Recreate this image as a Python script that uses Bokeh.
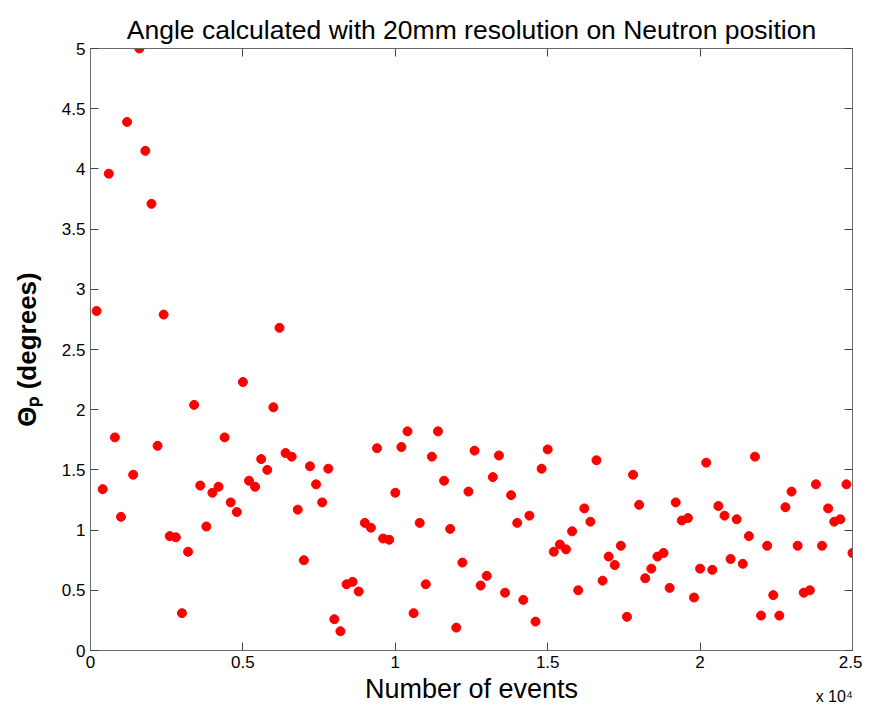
from bokeh.plotting import figure
from bokeh.models import LinearAxis, FixedTicker, Range1d
from bokeh.embed import file_html
from bokeh.resources import INLINE

# number of events (sampled every 200 events)
events = list(range(200, 25001, 200))

theta_p = [
    2.82, 1.34, 3.96, 1.77, 1.11, 4.39, 1.46, 5.00, 4.15, 3.71,
    1.70, 2.79, 0.95, 0.94, 0.31, 0.82, 2.04, 1.37, 1.03, 1.31,
    1.36, 1.77, 1.23, 1.15, 2.23, 1.41, 1.36, 1.59, 1.50, 2.02,
    2.68, 1.64, 1.61, 1.17, 0.75, 1.53, 1.38, 1.23, 1.51, 0.26,
    0.16, 0.55, 0.57, 0.49, 1.06, 1.02, 1.68, 0.93, 0.92, 1.31,
    1.69, 1.82, 0.31, 1.06, 0.55, 1.61, 1.82, 1.41, 1.01, 0.19,
    0.73, 1.32, 1.66, 0.54, 0.62, 1.44, 1.62, 0.48, 1.29, 1.06,
    0.42, 1.12, 0.24, 1.51, 1.67, 0.82, 0.88, 0.84, 0.99, 0.50,
    1.18, 1.07, 1.58, 0.58, 0.78, 0.71, 0.87, 0.28, 1.46, 1.21,
    0.60, 0.68, 0.78, 0.81, 0.52, 1.23, 1.08, 1.10, 0.44, 0.68,
    1.56, 0.67, 1.20, 1.12, 0.76, 1.09, 0.72, 0.95, 1.61, 0.29,
    0.87, 0.46, 0.29, 1.19, 1.32, 0.87, 0.48, 0.50, 1.38, 0.87,
    1.18, 1.07, 1.09, 1.38, 0.81,
]

x_ticks = [0, 5000, 10000, 15000, 20000, 25000]
x_tick_labels = ["0", "0.5", "1", "1.5", "2", "2.5"]
y_ticks = [0, 0.5, 1, 1.5, 2, 2.5, 3, 3.5, 4, 4.5, 5]
y_tick_labels = ["0", "0.5", "1", "1.5", "2", "2.5", "3", "3.5", "4", "4.5", "5"]

title_text = "Angle calculated with 20mm resolution on Neutron position"
x_label_text = "Number of events"
y_label_text = "Θₚ (degrees)"
x_exponent_text = "x 10⁴"

FONT = "Liberation Sans"
AXIS_COLOR = "#6a6a6a"

p = figure(frame_width=762, frame_height=602, output_backend="svg",
           toolbar_location=None,
           x_range=Range1d(0, 25000), y_range=Range1d(0, 5),
           min_border_left=90, min_border_right=10, min_border_top=48,
           min_border_bottom=53, background_fill_color="white",
           border_fill_color="white")
p.xgrid.visible = False
p.ygrid.visible = False
p.outline_line_color = AXIS_COLOR

p.title.text = title_text
p.title.align = "center"
p.title.offset = -5
p.title.text_font = FONT
p.title.text_font_size = "26.5px"
p.title.text_font_style = "normal"
p.title.text_color = "black"
p.title.standoff = 8

p.scatter(events, theta_p, size=9, color="#ff0000", line_color="#ff0000")

xo = {t: l for t, l in zip(x_ticks, x_tick_labels)}
yo = {t: l for t, l in zip(y_ticks, y_tick_labels)}

def style(ax, ticks, overrides, show_labels):
    ax.ticker = FixedTicker(ticks=ticks)
    ax.axis_line_color = AXIS_COLOR
    ax.major_tick_line_color = "#444444"
    ax.major_tick_in = 8
    ax.major_tick_out = 0
    ax.minor_tick_in = 0
    ax.minor_tick_out = 0
    ax.major_label_text_font = FONT
    if show_labels:
        ax.major_label_overrides = overrides
        ax.major_label_text_color = "black"
        ax.major_label_text_font_size = "17px"
        ax.major_label_standoff = 5
    else:
        # mirror axis (MATLAB "box on"): ticks only, labels not painted
        ax.major_label_text_color = None
        ax.major_label_text_font_size = "1px"
        ax.major_label_standoff = 0

style(p.xaxis[0], x_ticks, xo, True)
style(p.yaxis[0], y_ticks, yo, True)

xa = p.xaxis[0]
xa.axis_label = x_label_text
xa.axis_label_text_font = FONT
xa.axis_label_text_font_size = "27px"
xa.axis_label_text_font_style = "normal"
xa.axis_label_text_color = "black"
xa.axis_label_standoff = 3

ya = p.yaxis[0]
ya.axis_label = y_label_text
ya.axis_label_text_font = FONT
ya.axis_label_text_font_size = "26px"
ya.axis_label_text_font_style = "bold"
ya.axis_label_text_color = "black"
ya.axis_label_standoff = 17

top_ax = LinearAxis()
style(top_ax, x_ticks, xo, False)
p.add_layout(top_ax, "above")
right_ax = LinearAxis()
style(right_ax, y_ticks, yo, False)
p.add_layout(right_ax, "right")

# the "x 10^4" multiplier shown under the right end of the x axis
exp_pos = 24400
exp_ax = LinearAxis(ticker=FixedTicker(ticks=[exp_pos]),
                    major_label_overrides={exp_pos: x_exponent_text})
exp_ax.axis_line_color = None
exp_ax.major_tick_line_color = None
exp_ax.minor_tick_line_color = None
exp_ax.major_label_text_font = FONT
exp_ax.major_label_text_font_size = "16px"
exp_ax.major_label_text_color = "black"
exp_ax.major_label_standoff = -25
p.add_layout(exp_ax, "below")

open("out.html", "w").write(file_html(p, INLINE))
